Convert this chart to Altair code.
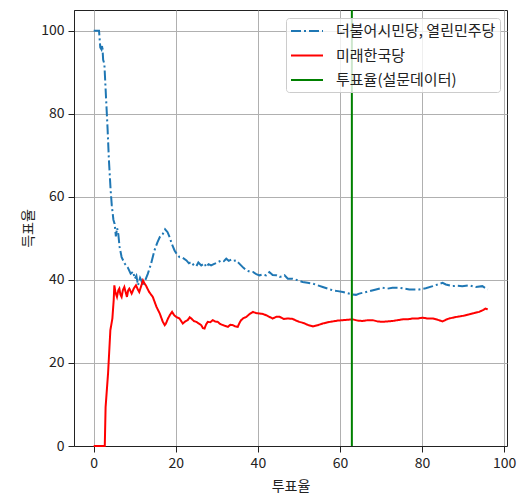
import altair as alt
import pandas as pd

series_names = ["더불어시민당, 열린민주당", "미래한국당", "투표율(설문데이터)"]
series_colors = ["#1f77b4", "#ff0000", "#008000"]

dem_x = [0, 1.3, 1.6, 1.9, 2.1, 2.3, 2.6, 3.0, 3.4, 3.7, 4.1, 4.4, 4.8, 5.1, 5.4, 5.7, 6.0, 6.3, 6.8,
         7.5, 8.3, 9.0, 9.6, 10.0, 10.4, 10.8, 11.3, 11.6, 12.0, 12.4, 13.2, 14.0, 14.8, 15.5, 16.1,
         16.8, 17.4, 18.0, 18.5, 19.1, 19.7, 20.4, 20.9, 21.7, 22.6, 23.2, 23.8, 24.4, 25.0, 25.5,
         26.2, 27.0, 27.4, 28.0, 28.6, 29.5, 30.3, 31.1, 31.7, 32.3, 32.9, 33.5, 34.1, 34.7, 35.3,
         35.9, 36.5, 37.2, 38.0, 38.8, 39.6, 40.4, 41.2, 42.0, 42.8, 43.6, 44.5, 45.3, 46.1, 46.5,
         47.3, 48.5, 49.7, 50.9, 52.1, 53.4, 54.6, 55.8, 57.0, 58.2, 59.5, 60.7, 61.9, 63.1, 63.9,
         64.7, 66.0, 67.2, 68.8, 70.4, 71.6, 72.8, 74.5, 75.7, 76.9, 78.1, 79.3, 80.9, 82.6, 83.8,
         85.0, 85.8, 87.4, 88.6, 89.8, 91.5, 93.1, 94.7, 96.0]
dem_y = [100, 100, 96, 95.5, 96.5, 93, 92, 84, 76, 69, 62, 58, 54.5, 53.5, 50.5, 52.5, 51, 48, 45.5,
         44, 43, 41.5, 42, 40.3, 41, 38.7, 40.5, 39.9, 38.5, 39.5, 41.5, 44, 47.1, 49, 50.3,
         51, 52.2, 51.5, 50.3, 48.5, 47.1, 46, 45.5, 45.3, 44.7, 44.0, 44.3, 43.5, 43.3, 44.2,
         43.5, 44, 43.1, 43.8, 43.5, 43.9, 44.3, 44.7, 44.5, 45.1, 44.6, 44.9, 44.6, 44.7, 44.1,
         43.5, 42.9, 42.3, 42.0, 41.9, 41.4, 41.1, 41.3, 41.1, 41.9, 41.2, 41.1, 40.7, 40.9, 41.1,
         40.3, 40.3, 39.9, 39.5, 39.3, 39.1, 38.7, 38.3, 37.9, 37.5, 37.3, 37.1, 36.8, 36.5, 36.4,
         36.7, 37.0, 37.3, 37.7, 38.1, 37.9, 38.1, 38.1, 37.9, 37.7, 37.7, 37.7, 38.0, 38.5, 38.9,
         39.3, 38.9, 38.5, 38.6, 38.5, 38.7, 38.3, 38.5, 37.7]

upf_x = [0, 2.7, 2.9, 3.5, 4.06, 4.55, 4.87, 5.03, 5.3, 5.67, 6.0, 6.25, 6.5, 6.8, 7.1, 7.46, 7.8,
         8.1, 8.4, 8.68, 9.25, 9.8, 10.3, 10.7, 11.1, 11.5, 12.0, 12.4, 12.7, 13.5, 14.4, 15.3,
         16.1, 16.8, 17.3, 17.6, 18.1, 18.6, 19.1, 19.6, 20.1, 20.9, 21.7, 22.3, 22.9, 23.4, 23.8,
         24.4, 25.0, 25.6, 26.2, 26.6, 27.0, 27.4, 27.8, 28.4, 29.0, 29.6, 30.2, 30.8, 31.5, 32.1,
         32.7, 33.3, 33.9, 34.5, 35.1, 35.5, 35.9, 36.5, 37.2, 38.0, 38.8, 39.6, 40.4, 41.2, 42.0,
         42.8, 43.6, 44.5, 45.3, 46.3, 47.3, 48.5, 49.3, 50.1, 51.2, 52.3, 53.4, 54.6, 55.8, 57.0,
         58.2, 59.5, 60.7, 61.9, 63.1, 64.3, 65.5, 66.8, 68.0, 69.2, 70.4, 71.6, 72.8, 74.0, 75.3,
         76.5, 77.7, 78.9, 80.1, 81.4, 82.6, 83.8, 85.0, 85.8, 86.6, 87.9, 89.1, 90.3, 91.5, 92.7,
         93.9, 95.0, 95.5, 96.0]
upf_y = [0, 0, 9.4, 17.5, 27.9, 30.7, 35.1, 38.7, 37, 35.9, 37.5, 37.9, 36.5, 35.9, 37.5, 38.3, 37,
         35.9, 37.5, 37.9, 36.7, 38, 38.7, 37.8, 37.1, 38.3, 39.9, 39.1, 38.7, 37.1, 35.9, 33.5,
         31.9, 30.0, 29.1, 29.5, 30.7, 31.6, 32.3, 31.5, 31.1, 30.7, 29.5, 30.0, 30.3, 31.0, 30.7,
         30.1, 29.9, 29.5, 29.1, 28.4, 28.3, 29.3, 29.9, 29.8, 30.3, 30.0, 29.9, 29.4, 29.1, 28.9,
         28.7, 29.2, 29.1, 28.8, 28.7, 29.6, 30.3, 30.8, 31.1, 31.8, 32.3, 32.0, 31.9, 31.8, 31.5,
         31.1, 30.7, 31.1, 31.1, 30.6, 30.7, 30.6, 30.2, 29.9, 29.6, 29.1, 28.8, 29.1, 29.5, 29.8,
         30.0, 30.2, 30.3, 30.4, 30.5, 30.2, 30.1, 30.3, 30.3, 30.0, 29.9, 30.0, 30.1, 30.3, 30.5,
         30.5, 30.7, 30.7, 30.9, 30.7, 30.7, 30.4, 30.0, 30.4, 30.7, 31.0, 31.2, 31.4, 31.7, 32.0,
         32.3, 32.8, 33.1, 32.9]

turnout_x = [62.9]

x_ticks = [0, 20, 40, 60, 80, 100]
y_ticks = [0, 20, 40, 60, 80, 100]

FONT = "Noto Sans CJK KR"

lines_df = pd.concat([
    pd.DataFrame({"x": dem_x, "y": dem_y, "series": series_names[0], "i": range(len(dem_x))}),
    pd.DataFrame({"x": upf_x, "y": upf_y, "series": series_names[1], "i": range(len(upf_x))}),
], ignore_index=True)
rule_df = pd.DataFrame({"x": turnout_x, "series": [series_names[2]]})

color = alt.Color("series:N", title=None,
                  scale=alt.Scale(domain=series_names, range=series_colors),
                  legend=alt.Legend(orient="none", legendX=212, legendY=8,
                                    symbolType="M-1,0L3,0", symbolSize=256, symbolStrokeWidth=2,
                                    labelFont=FONT, labelFontSize=15, labelColor="#222",
                                    labelOffset=28, rowPadding=7.5, padding=4,
                                    fillColor="rgba(255,255,255,0.8)", strokeColor="#cccccc",
                                    cornerRadius=3))
dash = alt.StrokeDash("series:N", title=None,
                      scale=alt.Scale(domain=series_names, range=[[10, 3, 2, 3], [1, 0], [1, 0]]))

x_enc = alt.X("x:Q", title="투표율",
              scale=alt.Scale(domain=[-4.8, 100.7], nice=False, zero=False),
              axis=alt.Axis(values=x_ticks, titlePadding=9))

lines = alt.Chart(lines_df).mark_line(strokeWidth=2).encode(
    x=x_enc,
    y=alt.Y("y:Q", title="득표율", scale=alt.Scale(domain=[0, 105], nice=False),
            axis=alt.Axis(values=y_ticks, titleX=-39)),
    color=color,
    strokeDash=dash,
    order=alt.Order("i:Q"),
)

rule = alt.Chart(rule_df).mark_rule(strokeWidth=2).encode(
    x=alt.X("x:Q"),
    color=color,
    strokeDash=dash,
)

chart = alt.layer(lines, rule).properties(
    width=433, height=436,
    background="white",
    autosize=alt.AutoSizeParams(type="none"),
    padding={"left": 66, "top": 2, "right": 10, "bottom": 49},
).configure_view(
    stroke="#222", strokeWidth=1
).configure_axis(
    grid=True, gridColor="#b0b0b0", gridWidth=1,
    domainColor="#222", domainWidth=1, tickColor="#222", tickSize=6, tickWidth=1,
    labelFont=FONT, labelFontSize=14, labelColor="#222", labelPadding=4,
    titleFont=FONT, titleFontSize=14, titleColor="#222", titleFontWeight="normal",
)

chart.save("out.html", embed_options={"renderer": "svg", "actions": False})
